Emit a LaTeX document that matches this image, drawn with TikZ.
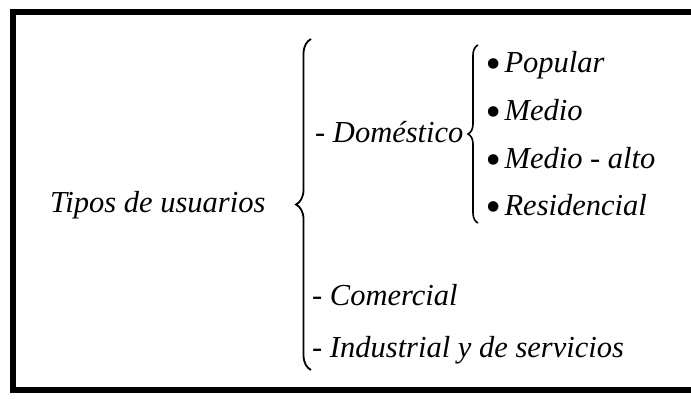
\documentclass[tikz,border=0pt]{standalone}
\usepackage{fontspec}
\setmainfont{Liberation Serif}
\usetikzlibrary{decorations.pathreplacing}

% Punto grande de las listas
\newcommand{\punto}{{\fontsize{44}{44}\selectfont\raisebox{-6pt}{•}}\hspace{4pt}}

\begin{document}
\begin{tikzpicture}[x=1pt, y=-1pt,
  item/.style={anchor=base west, inner sep=0pt, font=\fontsize{30.5}{36}\selectfont\itshape},
  bigbrace/.style={decorate, decoration={brace, amplitude=15pt}, line width=1.8pt},
  smallbrace/.style={decorate, decoration={brace, amplitude=10pt}, line width=1.6pt}]

\useasboundingbox (0,0) rectangle (691,399);

% Marco
\draw[line width=5.5pt] (691,12) -- (13,12) -- (13,390) -- (691,390);

% Titulo
\node[item] (tipos) at (50,212) {Tipos de usuarios};

% Primer nivel
\node[item] (domestico) at (315,142) {- Doméstico};
\node[item] (comercial) at (312,305) {- Comercial};
\node[item] (industrial) at (312,357) {- Industrial y de servicios};

% Segundo nivel
\node[item] (popular) at (485,72) {\punto Popular};
\node[item] (medio) at (485,120) {\punto Medio};
\node[item] (medioalto) at (485,168) {\punto Medio - alto};
\node[item] (residencial) at (485,215) {\punto Residencial};

% Llaves
\coordinate (grandeArriba) at (311,39);
\coordinate (grandeAbajo) at (311,370);
\coordinate (chicaArriba) at (478,45);
\coordinate (chicaAbajo) at (478,223);

\draw[bigbrace] (grandeAbajo) -- (grandeArriba);
\draw[smallbrace] (chicaAbajo) -- (chicaArriba);

\end{tikzpicture}
\end{document}
